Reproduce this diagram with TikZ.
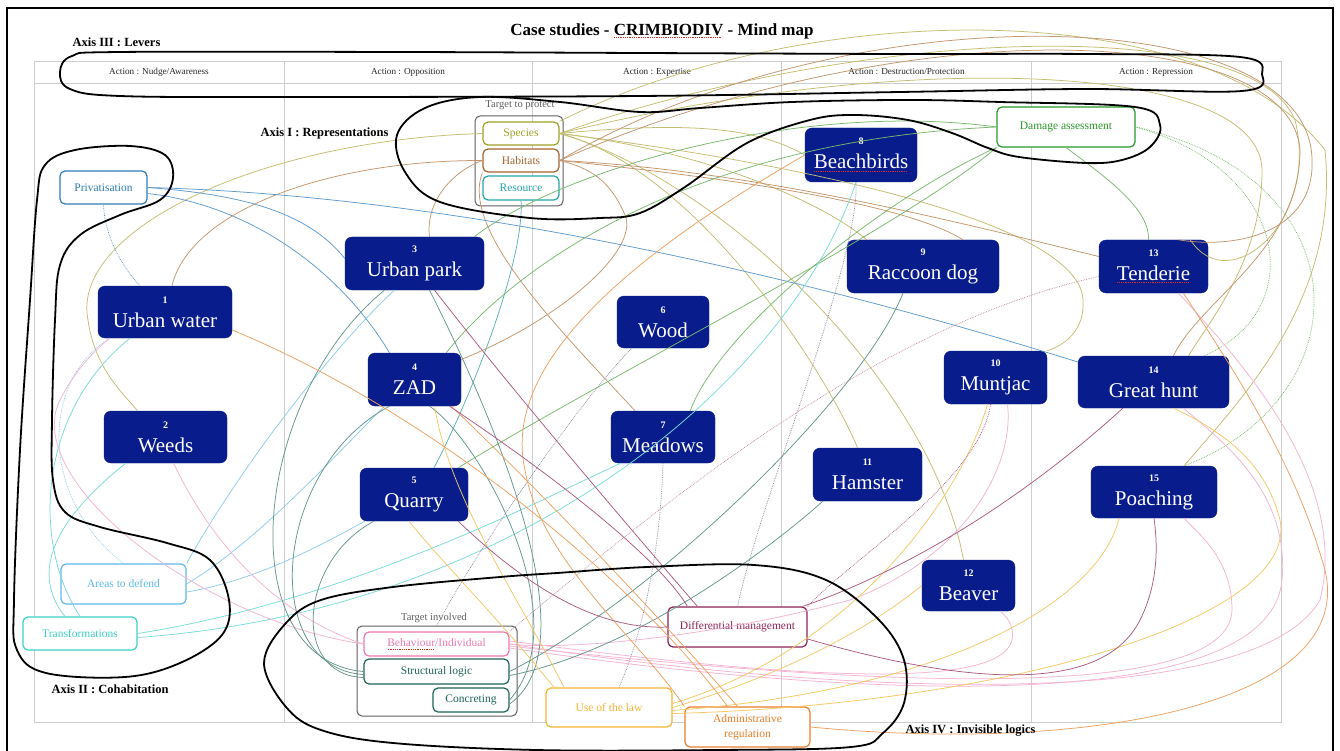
\documentclass[tikz,border=0pt]{standalone}
\usepackage{fontspec}
\setmainfont{Liberation Serif}
\usetikzlibrary{calc}

% box colours
\definecolor{navy}{RGB}{8,28,140}
\definecolor{gridc}{RGB}{205,205,205}
\definecolor{grp}{RGB}{95,95,95}
\definecolor{spellred}{RGB}{225,40,40}
\definecolor{cPriv}{RGB}{45,125,185}
\definecolor{cSpec}{RGB}{160,160,40}
\definecolor{cHab}{RGB}{165,100,45}
\definecolor{cRes}{RGB}{35,165,170}
\definecolor{cDam}{RGB}{40,155,40}
\definecolor{cArea}{RGB}{95,185,235}
\definecolor{cTrans}{RGB}{60,210,200}
\definecolor{cBeh}{RGB}{240,120,175}
\definecolor{cStr}{RGB}{30,100,90}
\definecolor{cLaw}{RGB}{245,180,50}
\definecolor{cAdm}{RGB}{235,125,40}
\definecolor{cDiff}{RGB}{140,35,85}
% connector colours
\definecolor{lSpec}{RGB}{196,188,112}
\definecolor{lHab}{RGB}{196,150,110}
\definecolor{lRes}{RGB}{90,180,180}
\definecolor{lPriv}{RGB}{95,155,205}
\definecolor{lDam}{RGB}{120,185,110}
\definecolor{lArea}{RGB}{140,205,240}
\definecolor{lTrans}{RGB}{120,220,215}
\definecolor{lBeh}{RGB}{244,180,210}
\definecolor{lStr}{RGB}{100,150,140}
\definecolor{lLaw}{RGB}{245,200,100}
\definecolor{lAdm}{RGB}{238,160,95}
\definecolor{lDiff}{RGB}{170,90,130}
\definecolor{lGray}{RGB}{140,140,160}

% red dotted spell-check underline
\newcommand\spellmark[1]{\setbox0\hbox{#1}\rlap{\raisebox{-3pt}{\textcolor{spellred}{\leaders\hbox to 1.8pt{\hss\vrule width .9pt height .9pt\hss}\hskip\wd0}}}#1}

\tikzset{
  case/.style={fill=navy, draw=navy, rounded corners=7pt, text=white, align=center,
    inner sep=0pt, font=\fontsize{21}{24}\selectfont},
  tag/.style={draw, fill=white, line width=1.2pt, rounded corners=5pt, inner sep=0pt,
    align=center, font=\fontsize{11.5}{15}\selectfont},
  group/.style={draw=grp, line width=1pt, rounded corners=5pt, inner sep=0pt},
  grplabel/.style={text=grp, font=\fontsize{10.5}{12}\selectfont},
  hdr/.style={font=\fontsize{9.2}{10}\selectfont, text=black!85},
  axislabel/.style={font=\bfseries\fontsize{12.5}{14}\selectfont},
  loopline/.style={draw=black, line width=1.8pt, line join=round},
  lk/.style={line width=0.75pt},
  dt/.style={line width=0.75pt, densely dotted},
}
\newcommand\cnum[1]{{\fontsize{10}{10}\selectfont\bfseries #1}}

\begin{document}
\begin{tikzpicture}[x=1pt,y=-1pt]
\useasboundingbox (0,0) rectangle (1340,751);
\fill[white] (0,0) rectangle (1340,751);

% outer frame
\draw[line width=2.2pt] (7,760) -- (7,8) -- (1333,8) -- (1333,760);

% table grid
\draw[gridc, line width=0.9pt] (34,61) rectangle (1281,722);
\draw[gridc, line width=0.9pt] (34,83) -- (1281,83);
\foreach \xx in {284,532,781.5,1031.5}
  \draw[gridc, line width=0.9pt] (\xx,61) -- (\xx,722);

% header row
\node[hdr] (h1) at (159,72) {Action : Nudge/Awareness};
\node[hdr] (h2) at (408,72) {Action : Opposition};
\node[hdr] (h3) at (657,72) {Action : Expertise};
\node[hdr] (h4) at (906.5,72) {Action : Destruction/Protection};
\node[hdr] (h5) at (1156,72) {Action : Repression};

% title
\node[font=\bfseries\fontsize{17}{20}\selectfont] (title) at (662,31) {Case studies - \spellmark{CRIMBIODIV} - Mind map};

% case studies
\node[case, minimum width=134, minimum height=52] (c1) at (165,312) {\cnum{1}\\Urban water};
\node[case, minimum width=123, minimum height=52] (c2) at (165.5,437) {\cnum{2}\\Weeds};
\node[case, minimum width=139, minimum height=53] (c3) at (414.5,263.5) {\cnum{3}\\Urban park};
\node[case, minimum width=93, minimum height=53] (c4) at (414.5,379.5) {\cnum{4}\\ZAD};
\node[case, minimum width=108, minimum height=53] (c5) at (414,494.5) {\cnum{5}\\Quarry};
\node[case, minimum width=92, minimum height=52] (c6) at (663,322) {\cnum{6}\\Wood};
\node[case, minimum width=104, minimum height=52] (c7) at (663,437) {\cnum{7}\\Meadows};
\node[case, minimum width=112, minimum height=54] (c8) at (861,155) {\cnum{8}\\\spellmark{Beachbirds}};
\node[case, minimum width=152, minimum height=53] (c9) at (923,266.5) {\cnum{9}\\Raccoon dog};
\node[case, minimum width=103, minimum height=53] (c10) at (995.5,377.5) {\cnum{10}\\Muntjac};
\node[case, minimum width=109, minimum height=53] (c11) at (867.5,474.5) {\cnum{11}\\Hamster};
\node[case, minimum width=93, minimum height=51] (c12) at (968.5,585.5) {\cnum{12}\\Beaver};
\node[case, minimum width=109, minimum height=53] (c13) at (1153.5,266.5) {\cnum{13}\\\spellmark{Tenderie}};
\node[case, minimum width=151, minimum height=52] (c14) at (1153.5,382) {\cnum{14}\\Great hunt};
\node[case, minimum width=126, minimum height=52] (c15) at (1154,492) {\cnum{15}\\Poaching};

% tags
\node[tag, draw=cPriv, text=cPriv, minimum width=87, minimum height=33] (pv) at (103.5,187.5) {Privatisation};
\node[group, minimum width=88, minimum height=90] (tgp) at (519,161) {};
\node[grplabel] (tgpl) at (520,105) {Target to protect};
\node[tag, draw=cSpec, text=cSpec, minimum width=76, minimum height=23] (sp) at (521,133.5) {Species};
\node[tag, draw=cHab, text=cHab, minimum width=76, minimum height=23] (hb) at (521,160.5) {Habitats};
\node[tag, draw=cRes, text=cRes, minimum width=76, minimum height=24] (rs) at (521,188) {Resource};
\node[tag, draw=cDam, text=cDam, minimum width=138, minimum height=40] (dm) at (1066,127) {Damage assessment};
\node[tag, draw=cArea, text=cArea, minimum width=125, minimum height=40] (ar) at (123.5,584) {Areas to defend};
\node[tag, draw=cTrans, text=cTrans, minimum width=114, minimum height=33] (tr) at (80,633.5) {Transformations};
\node[group, minimum width=160, minimum height=90] (tgi) at (437,671) {};
\node[grplabel] (tgil) at (434,618) {Target involved};
\node[tag, draw=cBeh, text=cBeh, minimum width=145, minimum height=24] (bh) at (436.5,644) {\spellmark{Behaviour}/Individual};
\node[tag, draw=cStr, text=cStr, minimum width=145, minimum height=25] (st) at (436.5,671.5) {Structural logic};
\node[tag, draw=cStr, text=cStr, minimum width=76, minimum height=24] (cc) at (471,700) {Concreting};
\node[tag, draw=cLaw, text=cLaw, minimum width=126, minimum height=39] (lw) at (609,707.5) {Use of the law};
\node[tag, draw=cAdm, text=cAdm, minimum width=125, minimum height=40] (ad) at (747.5,727) {Administrative\\regulation};
\node[tag, draw=cDiff, text=cDiff, minimum width=139, minimum height=40] (df) at (737.5,627) {Differential management};

% ---------- connectors ----------
% species
\draw[lk, lSpec] (sp.west) .. controls (260,140) and (70,230) .. (88,320) .. controls (95,370) and (125,395) .. ($(c2.north)+(-28,0)$);
\draw[lk, lSpec] (sp.east) .. controls (700,150) and (820,200) .. ($(c9.north west)+(20,0)$);
\draw[lk, lSpec] (sp.east) .. controls (700,170) and (830,380) .. ($(c11.north)+(-10,0)$);
\draw[lk, lSpec] (sp.east) .. controls (720,180) and (930,380) .. ($(c12.north)+(-5,0)$);
\draw[lk, lSpec] (sp.east) .. controls (850,170) and (1080,230) .. (1083,300) .. controls (1085,330) and (1065,345) .. (c10.north east);
\draw[lk, lSpec] (sp.north east) .. controls (800,0) and (1200,-10) .. (1325,150) .. controls (1340,300) and (1240,400) .. ($(c15.north)+(30,0)$);
\draw[lk, lSpec] (sp.east) .. controls (850,30) and (1250,10) .. (1295,120) .. controls (1320,220) and (1230,300) .. ($(c13.north east)+(-18,0)$);
\draw[lk, lSpec] (sp.east) .. controls (900,50) and (1260,60) .. (1262,170) .. controls (1262,260) and (1210,320) .. ($(c14.north)+(35,0)$);
\draw[lk, lSpec] (sp.east) .. controls (700,120) and (760,130) .. (c8.west);
% habitats
\draw[lk, lHab] (hb.west) .. controls (330,160) and (190,210) .. ($(c1.north)+(7,0)$);
\draw[lk, lHab] (hb.west) .. controls (455,170) and (425,200) .. ($(c3.north)+(15,0)$);
\draw[lk, lHab] ($(c4.east)+(0,-20)$) .. controls (560,320) and (640,250) .. (625,215) .. controls (610,180) and (590,168) .. (hb.east);
\draw[lk, lHab] (hb.east) .. controls (750,170) and (950,220) .. ($(c13.west)+(0,-10)$);
\draw[lk, lHab] (hb.south west) .. controls (460,230) and (560,330) .. ($(c7.north)+(-28,0)$);
\draw[lk, lHab] (hb.east) .. controls (900,10) and (1290,20) .. (1300,150) .. controls (1300,250) and (1200,300) .. ($(c14.north)+(20,0)$);
\draw[lk, lHab] (hb.east) .. controls (850,-10) and (1310,0) .. (1312,160) .. controls (1315,230) and (1240,250) .. ($(c13.north)+(25,0)$);
\draw[lk, lHab] (hb.east) .. controls (700,175) and (900,200) .. ($(c9.north)+(40,0)$);
% resource
\draw[lk, lRes] (rs.south) .. controls (525,260) and (470,400) .. ($(c5.north)+(20,0)$);
% privatisation
\draw[lk, lPriv] (pv.east) .. controls (450,195) and (800,275) .. ($(c14.west)+(0,-20)$);
\draw[lk, lPriv] (pv.east) .. controls (250,195) and (310,215) .. ($(c3.west)+(0,-5)$);
\draw[lk, lPriv] ($(pv.east)+(0,6)$) .. controls (250,205) and (340,270) .. ($(c4.north)+(-25,0)$);
\draw[dt, lPriv] (pv.south) .. controls (105,240) and (125,270) .. ($(c1.north)+(-25,0)$);
% damage assessment
\draw[lk, lDam] (dm.south west) .. controls (880,200) and (720,330) .. ($(c7.north east)+(-25,0)$);
\draw[lk, lDam] (dm.west) .. controls (700,140) and (520,260) .. ($(c4.north east)+(-15,0)$);
\draw[lk, lDam] (dm.south) .. controls (1110,180) and (1150,210) .. ($(c13.north)+(-5,0)$);
\draw[lk, lDam] (dm.south west) .. controls (900,230) and (600,380) .. ($(c5.north east)+(-10,0)$);
\draw[lk, lDam] (dm.west) .. controls (800,100) and (560,170) .. ($(c3.north east)+(-10,0)$);
\draw[dt, lDam] (dm.east) .. controls (1290,170) and (1310,310) .. ($(c14.north east)+(-25,0)$);
\draw[dt, lDam] (dm.east) .. controls (1370,180) and (1360,400) .. ($(c15.north)+(30,0)$);
% areas to defend
\draw[lk, lArea] (ar.north east) .. controls (250,450) and (350,330) .. ($(c3.south)+(-20,0)$);
\draw[lk, lArea] (ar.east) .. controls (260,540) and (340,450) .. ($(c4.south)+(-30,0)$);
\draw[lk, lArea] ($(ar.east)+(0,8)$) .. controls (260,580) and (330,540) .. ($(c5.south west)+(5,0)$);
\draw[dt, lArea] (ar.north) .. controls (40,500) and (40,380) .. ($(c1.south west)+(12,0)$);
% transformations
\draw[lk, lTrans] (tr.north) .. controls (30,540) and (40,410) .. ($(c1.south)+(-35,0)$);
\draw[lk, lTrans] ($(tr.north)+(-15,0)$) .. controls (20,560) and (80,500) .. ($(c2.south west)+(22,0)$);
\draw[lk, lTrans] (tr.east) .. controls (350,600) and (540,500) .. ($(c7.south west)+(10,0)$);
\draw[lk, lTrans] ($(tr.east)+(0,4)$) .. controls (520,610) and (790,380) .. ($(c8.south)+(-5,0)$);
% behaviour / individual
\draw[lk, lBeh] (bh.west) .. controls (200,620) and (20,480) .. (60,400) .. controls (75,370) and (95,350) .. ($(c1.south west)+(12,0)$);
\draw[lk, lBeh] ($(c2.south)+(8,0)$) .. controls (220,560) and (290,620) .. (bh.west);
\draw[lk, lBeh] (bh.east) .. controls (800,690) and (1250,720) .. (1320,600) .. controls (1350,480) and (1240,360) .. ($(c13.south)+(25,0)$);
\draw[lk, lBeh] ($(bh.east)+(0,4)$) .. controls (900,705) and (1270,710) .. (1282,580) .. controls (1290,490) and (1220,440) .. ($(c14.south)+(30,0)$);
\draw[lk, lBeh] ($(bh.east)+(0,2)$) .. controls (900,690) and (1230,700) .. (1232,610) .. controls (1232,560) and (1200,535) .. ($(c15.south)+(30,0)$);
\draw[lk, lBeh] ($(c10.south)+(12,0)$) .. controls (1015,470) and (960,560) .. (850,600) .. controls (700,640) and (560,650) .. (bh.east);
\draw[lk, lBeh] ($(bh.east)+(0,-3)$) .. controls (800,680) and (1000,690) .. (1012,640) .. controls (1015,625) and (1005,615) .. ($(c12.south east)+(-15,0)$);
\draw[dt, lDiff!70] ($(c13.west)+(0,10)$) .. controls (900,320) and (700,470) .. (bh.north east);
% structural logic and concreting
\draw[lk, lStr] (st.west) .. controls (230,660) and (250,400) .. ($(c3.south)+(-30,0)$);
\draw[lk, lStr] ($(st.west)+(0,3)$) .. controls (260,668) and (270,470) .. ($(c4.south)+(-25,0)$);
\draw[lk, lStr] ($(st.west)+(0,6)$) .. controls (290,675) and (300,560) .. ($(c5.south)+(-40,0)$);
\draw[lk, lStr] (st.east) .. controls (650,600) and (860,400) .. ($(c9.south)+(-20,0)$);
\draw[lk, lStr] ($(st.east)+(0,4)$) .. controls (640,650) and (780,540) .. ($(c11.south west)+(10,0)$);
\draw[lk, lStr] (cc.east) .. controls (580,620) and (480,440) .. ($(c4.south)+(15,0)$);
\draw[lk, lStr] ($(cc.east)+(0,4)$) .. controls (600,640) and (470,370) .. ($(c3.south)+(15,0)$);
\draw[dt, lGray] (tgi.north) .. controls (470,560) and (580,400) .. ($(c6.south west)+(15,0)$);
\draw[dt, lGray] (c7.south) .. controls (660,560) and (640,640) .. ($(lw.north)+(10,0)$);
% use of the law
\draw[lk, lLaw] ($(lw.north)+(-45,0)$) .. controls (520,600) and (450,500) .. ($(c4.south)+(20,0)$);
\draw[lk, lLaw] ($(lw.north)+(-55,0)$) .. controls (500,620) and (440,560) .. ($(c5.south)+(-5,0)$);
\draw[lk, lLaw] (lw.east) .. controls (800,670) and (880,620) .. (c12.west);
\draw[lk, lLaw] ($(lw.east)+(0,-4)$) .. controls (850,650) and (960,500) .. ($(c10.south)+(-8,0)$);
\draw[lk, lLaw] ($(lw.east)+(0,3)$) .. controls (950,690) and (1100,600) .. ($(c15.south)+(-35,0)$);
\draw[lk, lLaw] ($(lw.east)+(0,6)$) .. controls (1000,705) and (1300,620) .. (1280,520) .. controls (1265,460) and (1220,430) .. ($(c14.south)+(20,0)$);
% administrative regulation
\draw[lk, lAdm] ($(c1.east)+(0,18)$) .. controls (450,420) and (650,600) .. ($(ad.north)+(-20,0)$);
\draw[lk, lAdm] ($(c4.south east)+(-10,0)$) .. controls (550,500) and (680,640) .. ($(ad.north)+(-10,0)$);
\draw[lk, lAdm] (c8.west) .. controls (640,250) and (500,360) .. (525,470) .. controls (540,560) and (640,640) .. (ad.north west);
\draw[lk, lAdm] (ad.east) .. controls (1100,755) and (1370,700) .. (1322,560) .. controls (1290,450) and (1220,350) .. ($(c13.south)+(30,0)$);
% differential management
\draw[lk, lDiff] ($(c3.south)+(20,0)$) .. controls (520,400) and (640,540) .. ($(df.north west)+(30,0)$);
\draw[lk, lDiff] ($(c4.south)+(35,0)$) .. controls (560,480) and (660,560) .. ($(df.north west)+(20,0)$);
\draw[lk, lDiff] ($(c14.south west)+(45,0)$) .. controls (1000,520) and (880,580) .. ($(df.north east)+(-5,0)$);
\draw[lk, lDiff] ($(df.east)+(0,12)$) .. controls (950,680) and (1100,700) .. (1140,620) .. controls (1160,580) and (1157,540) .. (c15.south);
\draw[lk, lDiff] ($(c5.south east)+(-10,0)$) .. controls (530,590) and (600,630) .. (df.west);
\draw[dt, lGray] (df.north) .. controls (760,500) and (860,260) .. ($(c8.south)+(-5,0)$);
\draw[dt, lDiff] (df.north east) .. controls (850,560) and (980,480) .. ($(c10.south)+(-5,0)$);

% ---------- axis loops ----------
\draw[loopline] plot[smooth cycle, tension=0.6] coordinates {
  (60,72) (72,56) (120,52) (400,52) (640,53) (900,54) (1086,54) (1240,57) (1262,74)
  (1242,91) (1086,89) (900,92) (640,96) (286,97) (120,96) (70,89)};
\draw[loopline] plot[smooth cycle, tension=0.6] coordinates {
  (640,213) (685,187) (747,143) (810,120) (854,115) (908,120) (952,133) (988,148)
  (1019,157) (1086,163) (1122,160) (1150,147) (1160,125) (1135,107) (1000,102)
  (908,100) (792,102) (700,108) (640,112) (560,102) (480,97) (425,108) (397,135)
  (405,172) (440,202) (530,218) (600,218)};
\draw[loopline] plot[smooth cycle, tension=0.6] coordinates {
  (37,200) (45,165) (75,150) (130,146) (165,155) (173,178) (160,200) (120,215)
  (80,235) (60,265) (55,320) (52,420) (53,480) (65,512) (100,527) (167,543)
  (210,560) (229,600) (222,635) (180,663) (125,677) (46,673) (17,650) (14,600)
  (20,450) (30,300)};
\draw[loopline] plot[smooth cycle, tension=0.6] coordinates {
  (264,663) (286,623) (321,600) (393,587) (500,577) (557,573) (647,567) (754,565)
  (826,580) (879,620) (904,660) (904,703) (883,733) (851,747) (718,750) (536,750)
  (393,743) (321,730) (286,707)};

% axis labels
\node[axislabel, anchor=west] (axIII) at (69,42) {Axis III : Levers};
\node[axislabel, anchor=east] (axI) at (392,133) {Axis I : Representations};
\node[axislabel, anchor=west] (axII) at (48,689) {Axis II : Cohabitation};
\node[axislabel, anchor=west] (axIV) at (902,731) {Axis IV : Invisible logics};
\end{tikzpicture}
\end{document}
